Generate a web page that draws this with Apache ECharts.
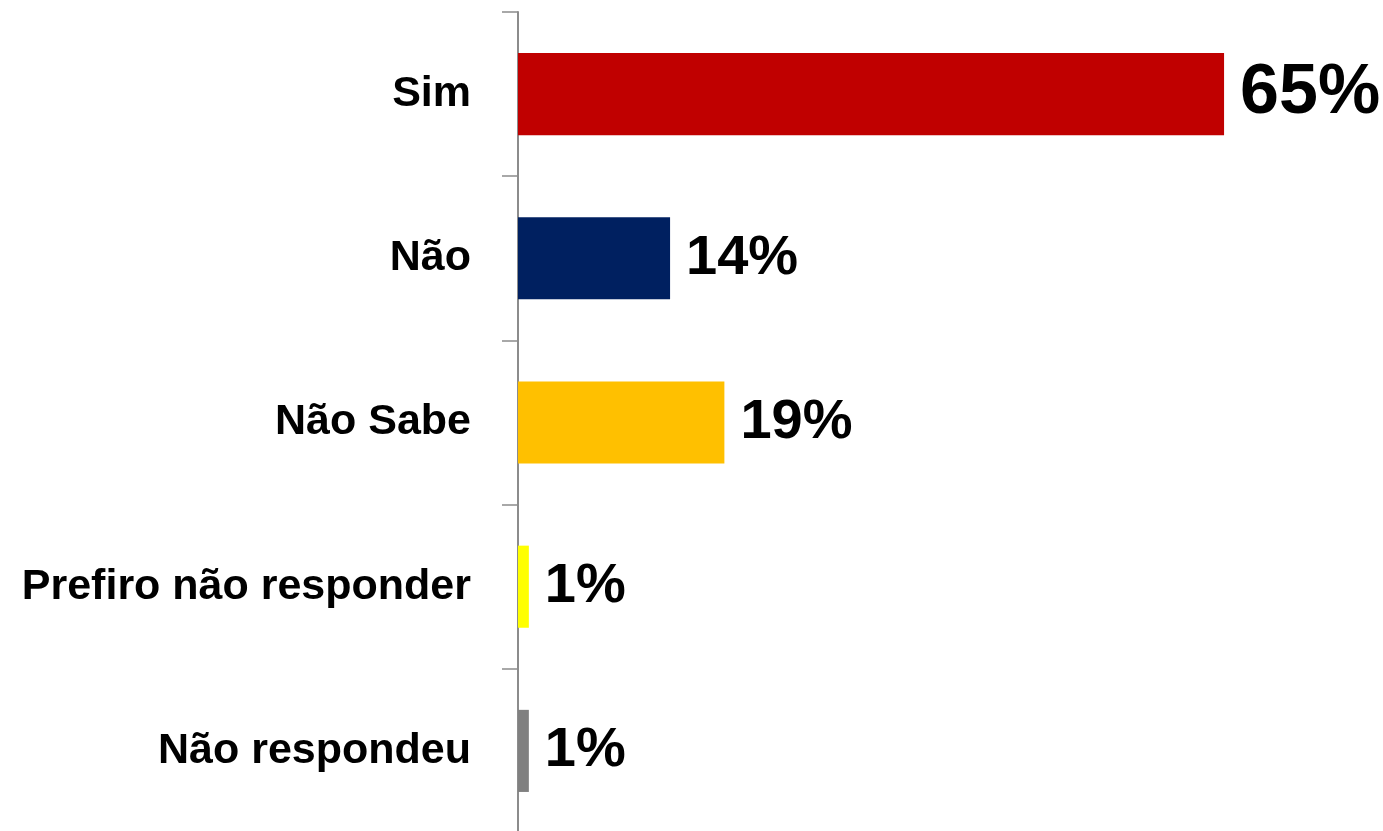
<!DOCTYPE html>
<html>
<head>
<meta charset="utf-8">
<script src="https://cdn.jsdelivr.net/npm/echarts@6/dist/echarts.min.js"></script>
<style>
    html, body { margin: 0; padding: 0; background: #fff; }
    #chart { width: 1383px; height: 831px; }
</style>
</head>
<body>
<div id="chart"></div>
<script>
var categories = ['Sim', 'Não', 'Não Sabe', 'Prefiro não responder', 'Não respondeu'];
var values = [65, 14, 19, 1, 1];
var colors = ['#C00000', '#002060', '#FFC000', '#FFFF00', '#808080'];

var font = "'Liberation Sans Narrow', 'Arial Narrow', 'Liberation Sans', sans-serif";

var chart = echarts.init(document.getElementById('chart'));

var option = {
    animation: false,
    grid: { left: 518, top: 12, bottom: -2, width: 869, containLabel: false, outerBoundsMode: 'none' },
    xAxis: {
        type: 'value',
        min: 0,
        max: 80,
        show: false
    },
    yAxis: {
        type: 'category',
        inverse: true,
        data: categories,
        axisLine: { lineStyle: { color: '#8c8c8c', width: 2 } },
        axisTick: { show: true, length: 16, lineStyle: { color: '#8c8c8c', width: 1.5 } },
        axisLabel: {
            margin: 47,
            color: '#000',
            fontFamily: font,
            fontWeight: 'bold',
            fontSize: 43,
            padding: [6, 0, 0, 0]
        }
    },
    series: [{
        type: 'bar',
        barWidth: '50%',
        data: values.map(function (v, i) {
            var item = { value: v, itemStyle: { color: colors[i] } };
            if (i === 0) item.label = { fontSize: 70 };
            return item;
        }),
        label: {
            show: true,
            position: 'right',
            distance: 16,
            formatter: '{c}%',
            color: '#000',
            fontFamily: font,
            fontWeight: 'bold',
            fontSize: 56
        }
    }]
};

chart.setOption(option);
</script>
</body>
</html>
